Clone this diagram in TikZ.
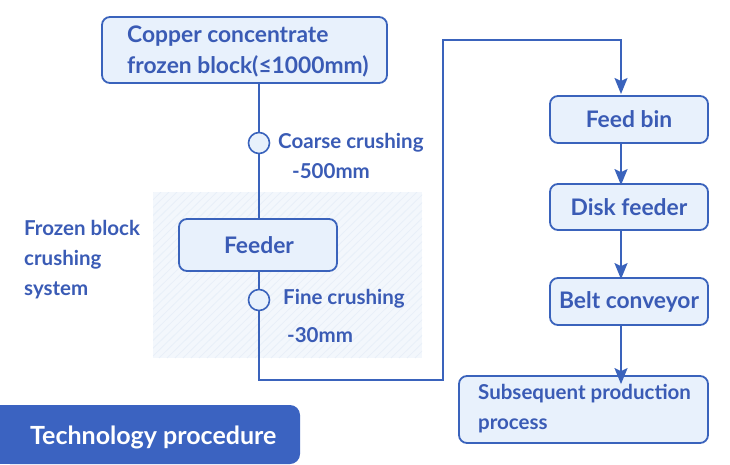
\documentclass[tikz,border=0pt]{standalone}
\usepackage{fontspec}
\setmainfont{Lato}
\usetikzlibrary{arrows.meta}
\definecolor{ink}{HTML}{3A5BB5}
\definecolor{edge}{HTML}{3A63BC}
\definecolor{boxfill}{HTML}{E8F1FC}
\definecolor{hatchbg}{HTML}{F3F7FC}
\definecolor{hatchln}{HTML}{E8EFF8}
\definecolor{tabfill}{HTML}{3B63C1}
\begin{document}
\begin{tikzpicture}[x=1pt,y=-1pt,
  stepbox/.style={draw=edge,line width=1.8pt,fill=boxfill,rounded corners=8pt},
  lbl/.style={text=ink,font=\fontsize{20.5}{24}\selectfont\bfseries,inner sep=0pt},
  big/.style={text=ink,font=\fontsize{22.8}{26}\selectfont\bfseries,inner sep=0pt},
  conn/.style={draw=edge,line width=1.8pt},
  arr/.style={conn,-{Stealth[length=16pt,width=13pt,inset=3pt]}},
  ring/.style={circle,draw=edge,line width=1.6pt,fill=boxfill,minimum size=21pt,inner sep=0pt}]
\useasboundingbox (0,0) rectangle (730,464);
% hatched region
\begin{scope}
\clip (153,192) rectangle (422,358);
\fill[hatchbg] (153,192) rectangle (422,358);
\foreach \i in {0,8,...,460} {\draw[hatchln,line width=0.8pt] (153+\i-170,358) -- (153+\i,192);}
\end{scope}
% main line path
\coordinate (p1) at (259,380);
\coordinate (p2) at (443,380);
\coordinate (p3) at (443,40);
\coordinate (p4) at (621,40);
% boxes
\draw[stepbox] (102,17) rectangle (387,83);
\node[big,anchor=west] (top1) at (127,36) {Copper concentrate};
\node[big,anchor=west] (top2) at (127,66) {frozen block(≤1000mm)};
\coordinate (topb) at (259,83);
\draw[conn] (topb) -- (259,219);
\draw[stepbox] (179,219) rectangle (337,271);
\node[big] (feeder) at (259,245) {Feeder};
\coordinate (feedb) at (259,271);
\draw[conn] (feedb) -- (p1) -- (p2) -- (p3) -- (p4) -- (621,80);
\node[ring] (c1) at (259,143) {};
\node[ring] (c2) at (259,300) {};
\node[lbl,anchor=west] (cc) at (278,143) {Coarse crushing};
\node[lbl,anchor=west] (cc2) at (292,171) {-500mm};
\node[lbl,anchor=west] (fc) at (283,299) {Fine crushing};
\node[lbl,anchor=west] (fc2) at (287,335) {-30mm};
\node[lbl,anchor=west,align=left,font=\fontsize{20.5}{30}\selectfont\bfseries] (sys) at (24,260) {Frozen block\\crushing\\system};
% right column
\node[stepbox,big,minimum width=158pt,minimum height=47pt] (bin) at (629,119.5) {Feed bin};
\node[stepbox,big,minimum width=158pt,minimum height=46pt] (disk) at (629,207) {Disk feeder};
\node[stepbox,big,minimum width=158pt,minimum height=47pt] (belt) at (629,301.5) {Belt conveyor};
\node[stepbox,minimum width=249pt,minimum height=67pt] (sub) at (583.5,409.5) {};
\node[lbl,anchor=west,align=left,font=\fontsize{20.5}{30}\selectfont\bfseries] (subt) at (478,409) {Subsequent production\\process};
\draw[arr] (621,78) -- (621,94);
\draw[arr] (bin.south -| 621,0) -- ([yshift=-2pt]disk.north -| 621,0);
\draw[arr] (disk.south -| 621,0) -- ([yshift=-2pt]belt.north -| 621,0);
\draw[arr] (belt.south -| 621,0) -- ([yshift=-9pt]sub.north -| 621,0);
% tab
\fill[tabfill,rounded corners=10pt] (0,464) -- (0,405) -- (300,405) -- (300,464) -- cycle;
\fill[tabfill] (0,405) rectangle (20,464);
\node[text=white,font=\fontsize{25}{28}\selectfont\bfseries,anchor=west,inner sep=0pt] (tab) at (30,437) {Technology procedure};
\end{tikzpicture}
\end{document}
